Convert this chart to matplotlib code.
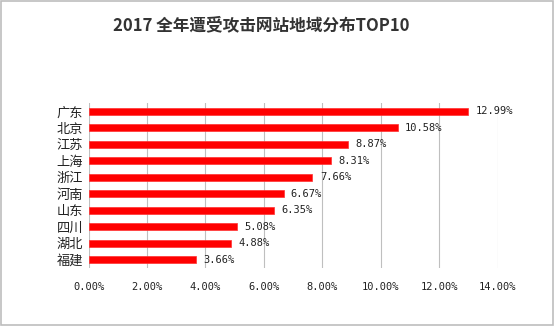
import matplotlib.pyplot as plt
from matplotlib.patches import Rectangle

plt.rcParams['font.family'] = ['Noto Sans CJK SC', 'DejaVu Sans']

# provinces, top to bottom
regions = ['广东', '北京', '江苏', '上海', '浙江', '河南', '山东', '四川', '湖北', '福建']
shares = [12.99, 10.58, 8.87, 8.31, 7.66, 6.67, 6.35, 5.08, 4.88, 3.66]
xticks = [0, 2, 4, 6, 8, 10, 12, 14]

fig = plt.figure(figsize=(5.55, 3.26), dpi=100)
ax = fig.add_axes([0.1595, 0.178, 0.7375, 0.506])

ypos = list(range(len(regions)))
ax.barh(ypos, shares, height=0.45, color='#ff0000', edgecolor='#ff3030', linewidth=0.5, zorder=3)

for y, v in zip(ypos, shares):
    ax.text(v + 0.25, y, '%.2f%%' % v, va='center', ha='left',
            fontsize=7.5, family='DejaVu Sans Mono', color='#222222')

ax.set_yticks(ypos)
ax.set_yticklabels(regions, fontsize=9.5, color='#222222')
ax.set_ylim(len(regions) - 0.5, -0.5)

ax.set_xlim(0, 14)
ax.set_xticks(xticks)
ax.set_xticklabels(['%.2f%%' % t for t in xticks], fontsize=7.5,
                   family='DejaVu Sans Mono', color='#222222')
ax.tick_params(axis='both', length=0)
ax.tick_params(axis='x', pad=10)
ax.tick_params(axis='y', pad=4)
ax.grid(axis='x', color='#bfbfbf', linewidth=0.8, zorder=0)
for s in ax.spines.values():
    s.set_visible(False)

fig.text(0.47, 0.923, '2017 全年遭受攻击网站地域分布TOP10', ha='center', va='center',
         fontsize=12, fontweight='bold', color='#333333')

fig.patches.append(Rectangle((0.002, 0.004), 0.995, 0.993, transform=fig.transFigure,
                             fill=False, edgecolor='#bdbdbd', linewidth=1.2))

fig.savefig('out.png', dpi=100)
